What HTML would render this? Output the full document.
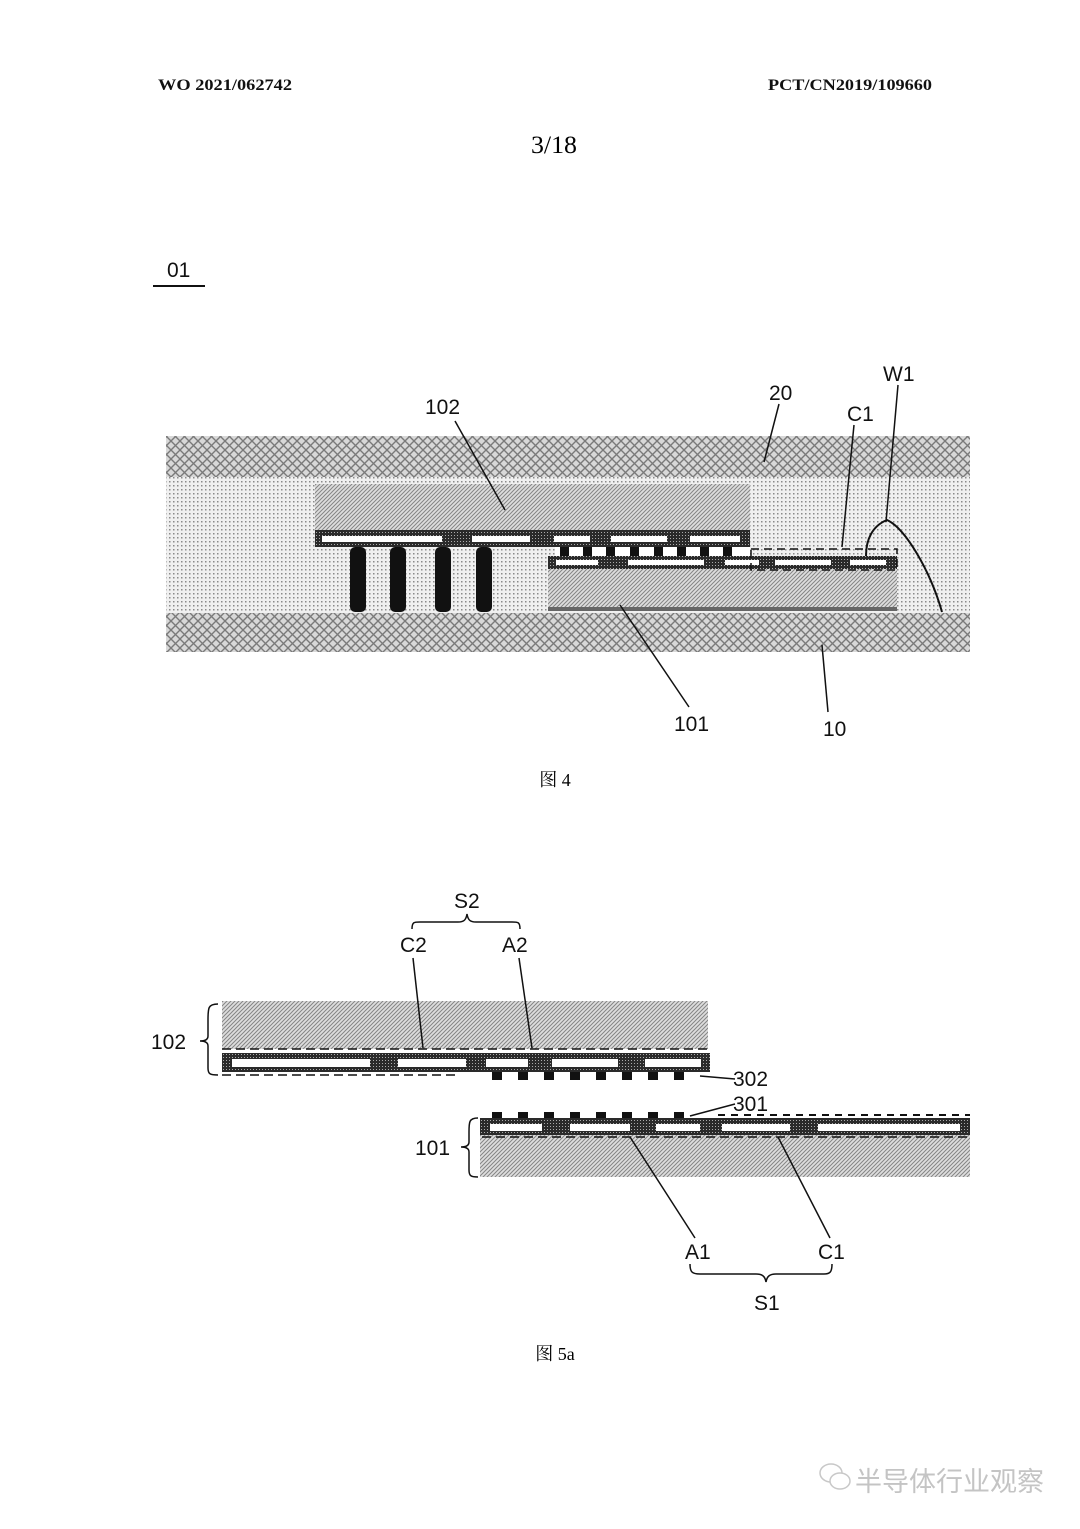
<!DOCTYPE html>
<html><head><meta charset="utf-8"><style>
html,body{margin:0;padding:0;background:#fff;}
svg{display:block}
</style></head><body>
<svg width="1080" height="1529" viewBox="0 0 1080 1529" xmlns="http://www.w3.org/2000/svg">
<defs>
<pattern id="cross" width="9" height="9" patternUnits="userSpaceOnUse">
<rect width="9" height="9" fill="#d8d8d8"/>
<path d="M0 0L9 9M9 0L0 9" stroke="#7a7a7a" stroke-width="1.4"/>
</pattern>
<pattern id="dots" width="4" height="4" patternUnits="userSpaceOnUse">
<rect width="4" height="4" fill="#f0f0f0"/>
<rect x="1" y="1" width="1.5" height="1.5" fill="#8a8a8a"/>
</pattern>
<pattern id="hatch" width="4" height="4" patternUnits="userSpaceOnUse">
<rect width="4" height="4" fill="#dedede"/>
<path d="M-1 5L5 -1M-1 1L1 -1M3 5L5 3" stroke="#858585" stroke-width="1"/>
</pattern>
<pattern id="dark" width="3" height="3" patternUnits="userSpaceOnUse">
<rect width="3" height="3" fill="#2a2a2a"/>
<rect x="1" y="1" width="1" height="1" fill="#aaa"/>
</pattern>
</defs>

<g font-family="Liberation Serif, serif" font-weight="bold" font-size="16" fill="#111">
<text x="158" y="90" textLength="134" lengthAdjust="spacingAndGlyphs">WO 2021/062742</text>
<text x="768" y="90" textLength="164" lengthAdjust="spacingAndGlyphs">PCT/CN2019/109660</text>
</g>
<text x="531" y="153" font-family="Liberation Serif, serif" font-size="25" textLength="46" lengthAdjust="spacingAndGlyphs">3/18</text>

<g font-family="Liberation Sans, sans-serif" font-size="21" fill="#111">
<text x="167" y="277">01</text>
</g>
<line x1="153" y1="286" x2="205" y2="286" stroke="#111" stroke-width="2"/>

<!-- Fig 4 -->
<rect x="166" y="436" width="804" height="41" fill="url(#cross)"/>
<rect x="166" y="477" width="804" height="136" fill="url(#dots)"/>
<rect x="166" y="613" width="804" height="39" fill="url(#cross)"/>
<rect x="315" y="484" width="435" height="47" fill="url(#hatch)"/>
<rect x="315" y="530" width="435" height="17" fill="url(#dark)"/>
<g fill="#fff">
<rect x="322" y="536" width="120" height="6"/><rect x="472" y="536" width="58" height="6"/>
<rect x="554" y="536" width="36" height="6"/><rect x="611" y="536" width="56" height="6"/>
<rect x="690" y="536" width="50" height="6"/>
</g>
<g fill="#111">
<rect x="350" y="547" width="16" height="65" rx="5"/><rect x="390" y="547" width="16" height="65" rx="5"/>
<rect x="435" y="547" width="16" height="65" rx="5"/><rect x="476" y="547" width="16" height="65" rx="5"/>
</g>
<rect x="555" y="547" width="195" height="9" fill="#fff"/>
<g fill="#111">
<rect x="560" y="547" width="9" height="9"/><rect x="583" y="547" width="9" height="9"/><rect x="606" y="547" width="9" height="9"/>
<rect x="630" y="547" width="9" height="9"/><rect x="654" y="547" width="9" height="9"/><rect x="677" y="547" width="9" height="9"/>
<rect x="700" y="547" width="9" height="9"/><rect x="723" y="547" width="9" height="9"/>
</g>
<rect x="548" y="556" width="349" height="13" fill="url(#dark)"/>
<g fill="#fff">
<rect x="556" y="560" width="42" height="5"/><rect x="628" y="560" width="76" height="5"/>
<rect x="725" y="560" width="34" height="5"/><rect x="775" y="560" width="56" height="5"/>
<rect x="850" y="560" width="36" height="5"/>
</g>
<rect x="548" y="569" width="349" height="40" fill="url(#hatch)"/>
<rect x="548" y="607" width="349" height="4" fill="#666"/>
<path d="M751 549H897V570H751Z" fill="none" stroke="#111" stroke-width="1.5" stroke-dasharray="8,5"/>
<path d="M866 556C866 540 872 526 887 520C905 528 930 570 942 612" fill="none" stroke="#111" stroke-width="2"/>
<g stroke="#111" stroke-width="1.5">
<line x1="455" y1="421" x2="505" y2="510"/>
<line x1="779" y1="404" x2="764" y2="462"/>
<line x1="854" y1="425" x2="842" y2="547"/>
<line x1="898" y1="385" x2="886" y2="522"/>
<line x1="689" y1="707" x2="620" y2="605"/>
<line x1="828" y1="712" x2="822" y2="645"/>
</g>
<g font-family="Liberation Sans, sans-serif" font-size="21" fill="#111">
<text x="425" y="414">102</text><text x="769" y="400">20</text>
<text x="847" y="421">C1</text><text x="883" y="381">W1</text>
<text x="674" y="731">101</text><text x="823" y="736">10</text>
</g>
<text x="555" y="786" font-family="Liberation Serif, Noto Serif CJK SC, serif" font-size="18" text-anchor="middle">图 4</text>

<!-- Fig 5a -->
<rect x="222" y="1001" width="486" height="48" fill="url(#hatch)"/>
<line x1="222" y1="1049" x2="708" y2="1049" stroke="#111" stroke-width="1.5" stroke-dasharray="9,5"/>
<rect x="222" y="1053" width="488" height="19" fill="url(#dark)"/>
<g fill="#fff">
<rect x="232" y="1059" width="138" height="8"/><rect x="398" y="1059" width="68" height="8"/>
<rect x="486" y="1059" width="42" height="8"/><rect x="552" y="1059" width="66" height="8"/>
<rect x="645" y="1059" width="56" height="8"/>
</g>
<line x1="222" y1="1075" x2="460" y2="1075" stroke="#111" stroke-width="1.5" stroke-dasharray="9,5"/>
<g fill="#111">
<rect x="492" y="1072" width="10" height="8"/><rect x="518" y="1072" width="10" height="8"/><rect x="544" y="1072" width="10" height="8"/>
<rect x="570" y="1072" width="10" height="8"/><rect x="596" y="1072" width="10" height="8"/><rect x="622" y="1072" width="10" height="8"/>
<rect x="648" y="1072" width="10" height="8"/><rect x="674" y="1072" width="10" height="8"/>
</g>
<path d="M218 1004C208 1004 208 1008 208 1020L208 1036C208 1040 204 1041 200 1041C204 1041 208 1042 208 1046L208 1068C208 1074 210 1075 218 1075" fill="none" stroke="#111" stroke-width="1.5"/>
<path d="M478 1118C469 1118 469 1122 469 1132L469 1142C469 1146 465 1147 461 1147C465 1147 469 1148 469 1152L469 1170C469 1176 471 1177 478 1177" fill="none" stroke="#111" stroke-width="1.5"/>

<g fill="#111">
<rect x="492" y="1112" width="10" height="7"/><rect x="518" y="1112" width="10" height="7"/><rect x="544" y="1112" width="10" height="7"/>
<rect x="570" y="1112" width="10" height="7"/><rect x="596" y="1112" width="10" height="7"/><rect x="622" y="1112" width="10" height="7"/>
<rect x="648" y="1112" width="10" height="7"/><rect x="674" y="1112" width="10" height="7"/>
</g>
<rect x="480" y="1118" width="490" height="17" fill="url(#dark)"/>
<g fill="#fff">
<rect x="490" y="1124" width="52" height="7"/><rect x="570" y="1124" width="60" height="7"/>
<rect x="656" y="1124" width="44" height="7"/><rect x="722" y="1124" width="68" height="7"/>
<rect x="818" y="1124" width="142" height="7"/>
</g>
<line x1="718" y1="1115" x2="970" y2="1115" stroke="#111" stroke-width="2" stroke-dasharray="7,6"/>
<rect x="480" y="1135" width="490" height="42" fill="url(#hatch)"/>
<line x1="482" y1="1137" x2="970" y2="1137" stroke="#111" stroke-width="1.5" stroke-dasharray="9,5"/>

<g stroke="#111" stroke-width="1.5" fill="none">
<line x1="413" y1="958" x2="423" y2="1048"/>
<line x1="519" y1="958" x2="532" y2="1048"/>
<line x1="700" y1="1076" x2="735" y2="1079"/>
<line x1="690" y1="1116" x2="735" y2="1104"/>
<line x1="630" y1="1137" x2="695" y2="1238"/>
<line x1="778" y1="1137" x2="830" y2="1238"/>
<path d="M412 929C412 922 414 922 420 922L458 922C464 922 466 920 467 914C468 920 470 922 476 922L512 922C518 922 520 922 520 929"/>
<path d="M690 1264C690 1272 692 1274 700 1274L756 1274C762 1274 765 1276 766 1282C767 1276 770 1274 776 1274L824 1274C830 1274 832 1272 832 1264"/>
</g>
<g font-family="Liberation Sans, sans-serif" font-size="21" fill="#111">
<text x="454" y="908">S2</text><text x="400" y="952">C2</text><text x="502" y="952">A2</text>
<text x="151" y="1049">102</text><text x="733" y="1086">302</text><text x="733" y="1111">301</text>
<text x="415" y="1155">101</text><text x="685" y="1259">A1</text><text x="818" y="1259">C1</text>
<text x="754" y="1310">S1</text>
</g>
<text x="555" y="1360" font-family="Liberation Serif, Noto Serif CJK SC, serif" font-size="18" text-anchor="middle">图 5a</text>

<!-- watermark -->
<g fill="none" stroke="#c8c8c8" stroke-width="1.5">
<ellipse cx="831" cy="1473" rx="11" ry="9"/>
<ellipse cx="840" cy="1481" rx="10" ry="8" fill="#fff"/>
</g>
<text x="855" y="1491" font-family="Noto Sans CJK SC, sans-serif" font-size="27" fill="#c4c4c4">半导体行业观察</text>
</svg>
</body></html>
